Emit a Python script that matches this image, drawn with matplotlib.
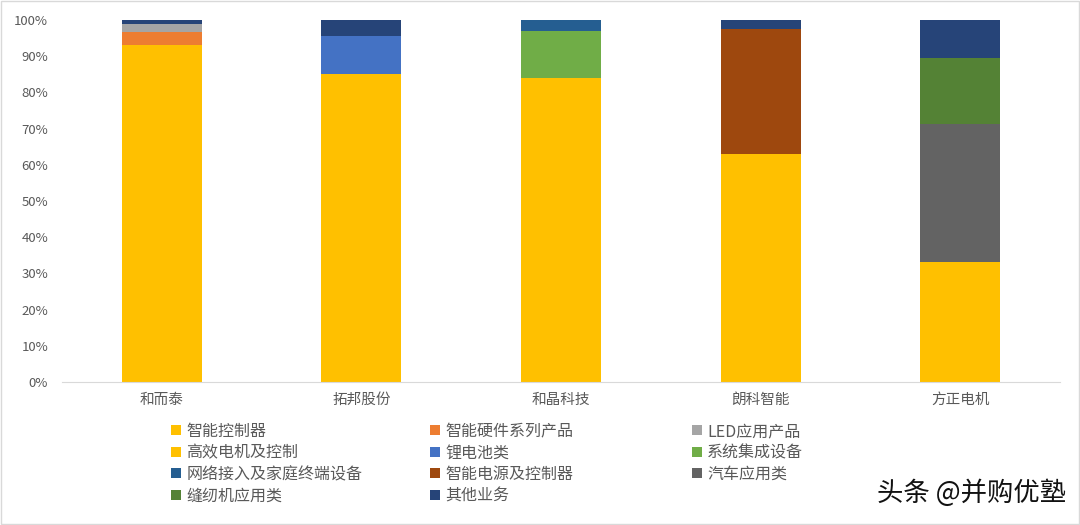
import matplotlib.pyplot as plt
import numpy as np

plt.rcParams['font.family'] = ['Noto Sans CJK SC', 'DejaVu Sans']

companies = ['和而泰', '拓邦股份', '和晶科技', '朗科智能', '方正电机']
series = ['智能控制器', '智能硬件系列产品', 'LED应用产品',
          '高效电机及控制', '锂电池类', '系统集成设备',
          '网络接入及家庭终端设备', '智能电源及控制器', '汽车应用类',
          '缝纫机应用类', '其他业务']
colors = ['#FFC000', '#ED7D31', '#A5A5A5',
          '#FFC000', '#4472C4', '#70AD47',
          '#255E91', '#9E480E', '#636363',
          '#548235', '#264478']

# share of revenue (%), one list per series, in company order
zhineng_kzq = [93.1, 85.0, 84.1, 62.9, 0]
zhineng_yj = [3.5, 0, 0, 0, 0]
led = [2.4, 0, 0, 0, 0]
gaoxiao_dj = [0, 0, 0, 0, 33.2]
lidian = [0, 10.6, 0, 0, 0]
xitong = [0, 0, 12.9, 0, 0]
wangluo = [0, 0, 3.0, 0, 0]
dianyuan = [0, 0, 0, 34.6, 0]
qiche = [0, 0, 0, 0, 38.0]
fengren = [0, 0, 0, 0, 18.4]
qita = [1.0, 4.4, 0, 2.5, 10.4]

values = [zhineng_kzq, zhineng_yj, led, gaoxiao_dj, lidian, xitong,
          wangluo, dianyuan, qiche, fengren, qita]

fig = plt.figure(figsize=(10.8, 5.25), dpi=100)
ax = fig.add_axes([62/1080, 1-382/525, (1060-62)/1080, (382-20)/525])

x = np.arange(len(companies))
bottom = np.zeros(len(companies))
handles = []
for name, vals, c in zip(series, values, colors):
    vals = np.array(vals, dtype=float)
    b = ax.bar(x, vals, 0.4, bottom=bottom, color=c, label=name)
    handles.append(b)
    bottom += vals

ax.set_xlim(-0.5, len(companies) - 0.5)
ax.set_ylim(0, 100)
ax.set_yticks(np.arange(0, 101, 10))
ax.set_yticklabels([f'{v}%' for v in range(0, 101, 10)])
ax.set_xticks(x)
ax.set_xticklabels(companies, fontsize=10.5)
for s in ['top', 'right', 'left']:
    ax.spines[s].set_visible(False)
ax.spines['bottom'].set_color('#D9D9D9')
ax.tick_params(axis='y', length=0, labelsize=9.5, colors='#595959', pad=10)
ax.tick_params(axis='x', length=0, colors='#595959', pad=8)

# legend laid out in three columns, row-major like the original
col_x = [171, 430, 692]
for ci in range(3):
    idx = list(range(ci, len(series), 3))
    leg = fig.legend([handles[i] for i in idx], [series[i] for i in idx],
                     loc='upper left', bbox_to_anchor=(col_x[ci]/1080, 1-423/525),
                     frameon=False, fontsize=11.5, handlelength=0.6, handleheight=0.6,
                     handletextpad=0.35, labelspacing=0.28, borderaxespad=0,
                     borderpad=0, labelcolor='#595959')

fig.text(1066/1080, 1-493/525, '头条 @并购优塾', ha='right', va='center',
         fontsize=19, color='#111111')

fig.patches.append(plt.Rectangle((0.001, 0.001), 0.998, 0.998, transform=fig.transFigure,
                                 fill=False, edgecolor='#D9D9D9', linewidth=1))

fig.savefig('out.png', dpi=100)
